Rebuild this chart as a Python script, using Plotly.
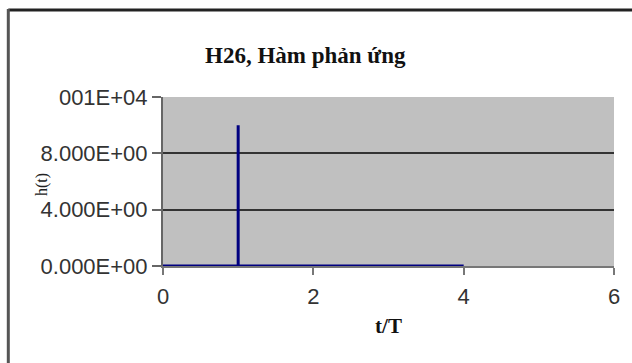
import plotly.graph_objects as go

# Data
t_vals = [0, 1, 1, 1, 4]
h_vals = [0, 0, 10, 0, 0]
x_ticks = [0, 2, 4, 6]
y_ticks = [0, 4, 8, 12]
y_ticktext = ["0.000E+00", "4.000E+00", "8.000E+00", "001E+04"]
title_text = "H26, Hàm phản ứng"
x_title = "t/T"
y_title = "h(t)"

fig = go.Figure()
fig.add_trace(go.Scatter(x=t_vals, y=h_vals, mode="lines",
                         line=dict(color="#000080", width=3), showlegend=False))

fig.update_layout(
    width=632, height=363,
    margin=dict(l=163, r=18, t=97, b=97),
    paper_bgcolor="white", plot_bgcolor="#c0c0c0",
    title=dict(text=f"<b>{title_text}</b>", x=0.483, xanchor="center", y=0.848, yanchor="middle",
               font=dict(family="Liberation Serif", size=23, color="#111")),
    xaxis=dict(range=[0, 6], tickvals=x_ticks, showgrid=False, zeroline=False,
               showline=True, linecolor="#777", linewidth=2,
               ticks="outside", ticklen=7, tickcolor="#777", tickwidth=2,
               ticklabelstandoff=3,
               tickfont=dict(family="Liberation Sans", size=22, color="#333"),
               title=dict(text=f"<b>{x_title}</b>", standoff=10,
                          font=dict(family="Liberation Serif", size=21, color="#111"))),
    yaxis=dict(range=[0, 12], tickvals=y_ticks, ticktext=y_ticktext,
               showgrid=True, gridcolor="#333", gridwidth=2, zeroline=False,
               showline=True, linecolor="#666", linewidth=2,
               ticks="outside", ticklen=9, tickcolor="#666", tickwidth=2,
               tickfont=dict(family="Liberation Sans", size=22, color="#333")),
    shapes=[
        dict(type="line", xref="paper", yref="paper", x0=-0.343, x1=1.1, y0=1.515, y1=1.515,
             line=dict(color="#222", width=3)),
        dict(type="line", xref="paper", yref="paper", x0=-0.343, x1=-0.343, y0=1.52, y1=-0.6,
             line=dict(color="#555", width=3)),
    ],
    annotations=[
        dict(text=y_title, xref="paper", yref="paper", x=-0.268, y=0.48, textangle=-90,
             xanchor="center", yanchor="middle",
             showarrow=False, font=dict(family="Liberation Serif", size=16, color="#222")),
    ],
)

fig.write_html("out.html")
